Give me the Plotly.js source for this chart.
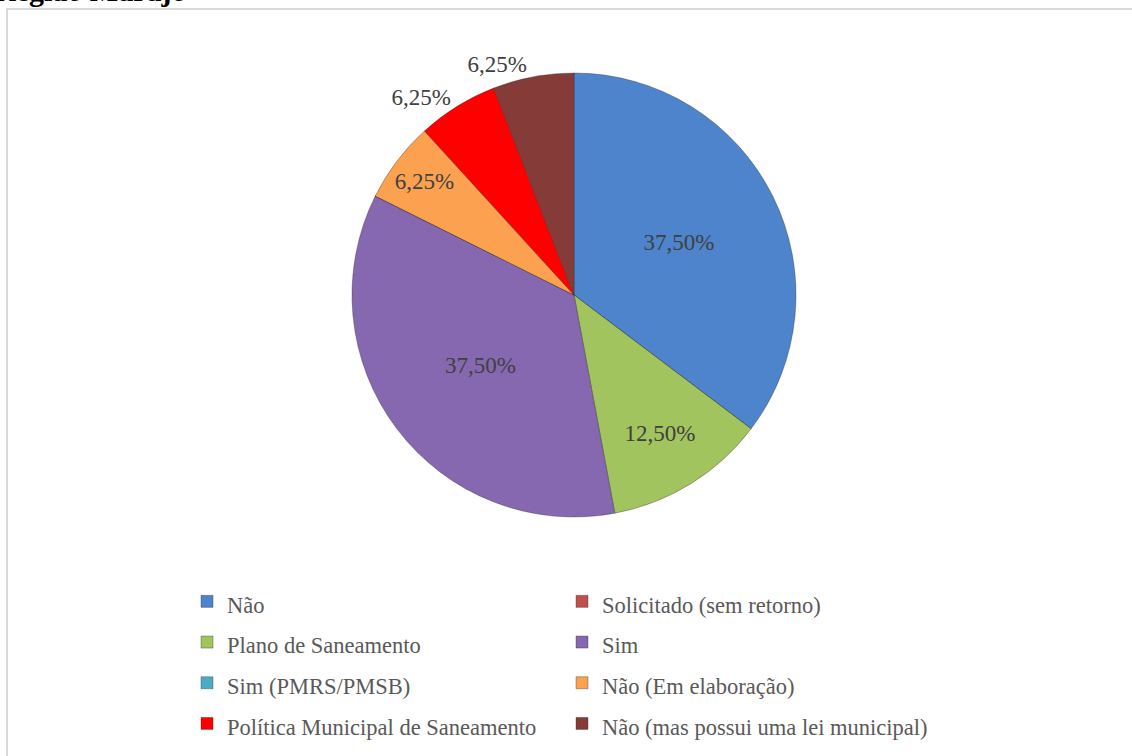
<!DOCTYPE html>
<html>
<head>
<meta charset="utf-8">
<script src="https://cdn.plot.ly/plotly-3.0.1.min.js"></script>
<style>html,body{margin:0;padding:0;background:#fff;}#chart{width:1132px;height:756px;}</style>
</head>
<body>
<div id="chart"></div>
<script>
const categories = ['Não', 'Solicitado (sem retorno)', 'Plano de Saneamento', 'Sim', 'Sim (PMRS/PMSB)', 'Não (Em elaboração)', 'Política Municipal de Saneamento', 'Não (mas possui uma lei municipal)'];
const shares = [0.375, 0, 0.125, 0.375, 0, 0.0625, 0.0625, 0.0625];
const sliceColors = ['#4d84cc', '#c0504d', '#a2c45e', '#8668b0', '#4bacc6', '#fba150', '#fe0000', '#853c39'];
const labelPlacement = ['inside', 'none', 'inside', 'inside', 'none', 'inside', 'outside', 'outside'];
const chartTitle = 'Região Marajó';

const W = 1132, H = 756, MR = 60;
const PW = W - MR;
const cx = 574, cy = 295, R = 222;
const serif = '"Liberation Serif", "Times New Roman", Times, serif';

const legendLabels = categories.map(c => '<span style="font-size:22.5px">' + c + '</span>');

const trace = {
  type: 'pie',
  labels: legendLabels,
  values: shares,
  sort: false,
  direction: 'clockwise',
  rotation: 0,
  marker: {colors: sliceColors, line: {color: 'rgba(40,40,40,0.35)', width: 1}},
  texttemplate: '%{value:.2%}',
  textposition: labelPlacement,
  insidetextorientation: 'horizontal',
  textfont: {family: serif, size: 23, color: '#404040'},
  insidetextfont: {family: serif, size: 23, color: '#404040'},
  outsidetextfont: {family: serif, size: 23, color: '#404040'},
  hoverinfo: 'label+percent',
  domain: {x: [(cx - R) / PW, (cx + R) / PW], y: [1 - (cy + R) / H, 1 - (cy - R) / H]}
};

const layout = {
  width: W, height: H,
  margin: {l: 0, r: MR, t: 0, b: 0},
  paper_bgcolor: '#ffffff',
  separators: ',.',
  showlegend: true,
  legend: {
    orientation: 'h',
    x: 187 / PW, xanchor: 'left',
    y: 1 - 576 / H, yanchor: 'top',
    entrywidth: 330,
    itemwidth: 30,
    font: {family: serif, size: 29, color: '#595959'},
    bgcolor: 'rgba(0,0,0,0)'
  },
  shapes: [{
    type: 'rect', xref: 'paper', yref: 'paper',
    x0: 7 / PW, x1: 1.2, y0: -0.05, y1: 1 - 9 / H,
    line: {color: '#d9d9d9', width: 2}, fillcolor: 'rgba(0,0,0,0)'
  }],
  annotations: [{
    text: '<b>' + chartTitle + '</b>', xref: 'paper', yref: 'paper',
    x: 188 / PW, xanchor: 'right', y: 1 - 9 / H, yanchor: 'bottom',
    showarrow: false, font: {family: serif, size: 30, color: '#000000'}
  }]
};

Plotly.newPlot('chart', [trace], layout, {displayModeBar: false, staticPlot: true});
</script>
</body>
</html>
